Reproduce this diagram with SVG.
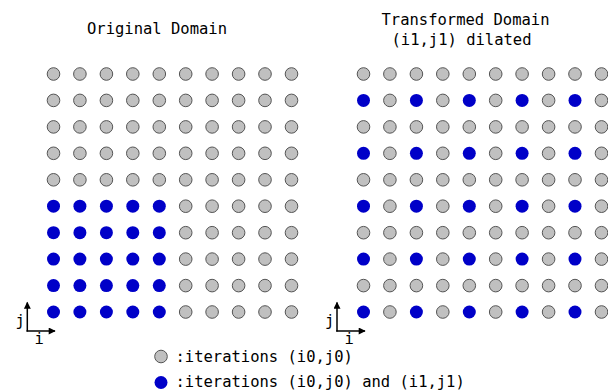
<svg xmlns="http://www.w3.org/2000/svg" width="608" height="391" viewBox="0 0 608 391">
<defs>
<style>
text{font-family:"DejaVu Sans Mono","Liberation Mono",monospace;font-size:15.5px;fill:#000}
.g{fill:#c0c0c0;stroke:#555;stroke-width:1}
.b{fill:#0000c8}
.ax{stroke:#000;stroke-width:1.5;fill:none}
</style>
<marker id="ah" viewBox="0 0 10 10" refX="9" refY="5" markerWidth="8" markerHeight="7" markerUnits="userSpaceOnUse" orient="auto"><path d="M0,0 L10,5 L0,10 z" fill="#000"/></marker>
</defs>
<rect width="608" height="391" fill="#fff"/>
<text x="87" y="34">Original Domain</text>
<text x="381.5" y="25">Transformed Domain</text>
<text x="391.5" y="45">(i1,j1) dilated</text>
<g id="nodes-left">
<circle class="g" cx="53.5" cy="74" r="6.3"/><circle class="g" cx="79.9" cy="74" r="6.3"/><circle class="g" cx="106.4" cy="74" r="6.3"/><circle class="g" cx="132.8" cy="74" r="6.3"/><circle class="g" cx="159.3" cy="74" r="6.3"/><circle class="g" cx="185.7" cy="74" r="6.3"/><circle class="g" cx="212.1" cy="74" r="6.3"/><circle class="g" cx="238.6" cy="74" r="6.3"/><circle class="g" cx="265" cy="74" r="6.3"/><circle class="g" cx="291.5" cy="74" r="6.3"/>
<circle class="g" cx="53.5" cy="100.4" r="6.3"/><circle class="g" cx="79.9" cy="100.4" r="6.3"/><circle class="g" cx="106.4" cy="100.4" r="6.3"/><circle class="g" cx="132.8" cy="100.4" r="6.3"/><circle class="g" cx="159.3" cy="100.4" r="6.3"/><circle class="g" cx="185.7" cy="100.4" r="6.3"/><circle class="g" cx="212.1" cy="100.4" r="6.3"/><circle class="g" cx="238.6" cy="100.4" r="6.3"/><circle class="g" cx="265" cy="100.4" r="6.3"/><circle class="g" cx="291.5" cy="100.4" r="6.3"/>
<circle class="g" cx="53.5" cy="126.9" r="6.3"/><circle class="g" cx="79.9" cy="126.9" r="6.3"/><circle class="g" cx="106.4" cy="126.9" r="6.3"/><circle class="g" cx="132.8" cy="126.9" r="6.3"/><circle class="g" cx="159.3" cy="126.9" r="6.3"/><circle class="g" cx="185.7" cy="126.9" r="6.3"/><circle class="g" cx="212.1" cy="126.9" r="6.3"/><circle class="g" cx="238.6" cy="126.9" r="6.3"/><circle class="g" cx="265" cy="126.9" r="6.3"/><circle class="g" cx="291.5" cy="126.9" r="6.3"/>
<circle class="g" cx="53.5" cy="153.3" r="6.3"/><circle class="g" cx="79.9" cy="153.3" r="6.3"/><circle class="g" cx="106.4" cy="153.3" r="6.3"/><circle class="g" cx="132.8" cy="153.3" r="6.3"/><circle class="g" cx="159.3" cy="153.3" r="6.3"/><circle class="g" cx="185.7" cy="153.3" r="6.3"/><circle class="g" cx="212.1" cy="153.3" r="6.3"/><circle class="g" cx="238.6" cy="153.3" r="6.3"/><circle class="g" cx="265" cy="153.3" r="6.3"/><circle class="g" cx="291.5" cy="153.3" r="6.3"/>
<circle class="g" cx="53.5" cy="179.8" r="6.3"/><circle class="g" cx="79.9" cy="179.8" r="6.3"/><circle class="g" cx="106.4" cy="179.8" r="6.3"/><circle class="g" cx="132.8" cy="179.8" r="6.3"/><circle class="g" cx="159.3" cy="179.8" r="6.3"/><circle class="g" cx="185.7" cy="179.8" r="6.3"/><circle class="g" cx="212.1" cy="179.8" r="6.3"/><circle class="g" cx="238.6" cy="179.8" r="6.3"/><circle class="g" cx="265" cy="179.8" r="6.3"/><circle class="g" cx="291.5" cy="179.8" r="6.3"/>
<circle class="b" cx="53.5" cy="206.2" r="6.5"/><circle class="b" cx="79.9" cy="206.2" r="6.5"/><circle class="b" cx="106.4" cy="206.2" r="6.5"/><circle class="b" cx="132.8" cy="206.2" r="6.5"/><circle class="b" cx="159.3" cy="206.2" r="6.5"/><circle class="g" cx="185.7" cy="206.2" r="6.3"/><circle class="g" cx="212.1" cy="206.2" r="6.3"/><circle class="g" cx="238.6" cy="206.2" r="6.3"/><circle class="g" cx="265" cy="206.2" r="6.3"/><circle class="g" cx="291.5" cy="206.2" r="6.3"/>
<circle class="b" cx="53.5" cy="232.7" r="6.5"/><circle class="b" cx="79.9" cy="232.7" r="6.5"/><circle class="b" cx="106.4" cy="232.7" r="6.5"/><circle class="b" cx="132.8" cy="232.7" r="6.5"/><circle class="b" cx="159.3" cy="232.7" r="6.5"/><circle class="g" cx="185.7" cy="232.7" r="6.3"/><circle class="g" cx="212.1" cy="232.7" r="6.3"/><circle class="g" cx="238.6" cy="232.7" r="6.3"/><circle class="g" cx="265" cy="232.7" r="6.3"/><circle class="g" cx="291.5" cy="232.7" r="6.3"/>
<circle class="b" cx="53.5" cy="259.1" r="6.5"/><circle class="b" cx="79.9" cy="259.1" r="6.5"/><circle class="b" cx="106.4" cy="259.1" r="6.5"/><circle class="b" cx="132.8" cy="259.1" r="6.5"/><circle class="b" cx="159.3" cy="259.1" r="6.5"/><circle class="g" cx="185.7" cy="259.1" r="6.3"/><circle class="g" cx="212.1" cy="259.1" r="6.3"/><circle class="g" cx="238.6" cy="259.1" r="6.3"/><circle class="g" cx="265" cy="259.1" r="6.3"/><circle class="g" cx="291.5" cy="259.1" r="6.3"/>
<circle class="b" cx="53.5" cy="285.6" r="6.5"/><circle class="b" cx="79.9" cy="285.6" r="6.5"/><circle class="b" cx="106.4" cy="285.6" r="6.5"/><circle class="b" cx="132.8" cy="285.6" r="6.5"/><circle class="b" cx="159.3" cy="285.6" r="6.5"/><circle class="g" cx="185.7" cy="285.6" r="6.3"/><circle class="g" cx="212.1" cy="285.6" r="6.3"/><circle class="g" cx="238.6" cy="285.6" r="6.3"/><circle class="g" cx="265" cy="285.6" r="6.3"/><circle class="g" cx="291.5" cy="285.6" r="6.3"/>
<circle class="b" cx="53.5" cy="312" r="6.5"/><circle class="b" cx="79.9" cy="312" r="6.5"/><circle class="b" cx="106.4" cy="312" r="6.5"/><circle class="b" cx="132.8" cy="312" r="6.5"/><circle class="b" cx="159.3" cy="312" r="6.5"/><circle class="g" cx="185.7" cy="312" r="6.3"/><circle class="g" cx="212.1" cy="312" r="6.3"/><circle class="g" cx="238.6" cy="312" r="6.3"/><circle class="g" cx="265" cy="312" r="6.3"/><circle class="g" cx="291.5" cy="312" r="6.3"/>
</g>
<g id="nodes-right">
<circle class="g" cx="363.5" cy="74" r="6.3"/><circle class="g" cx="389.9" cy="74" r="6.3"/><circle class="g" cx="416.4" cy="74" r="6.3"/><circle class="g" cx="442.8" cy="74" r="6.3"/><circle class="g" cx="469.3" cy="74" r="6.3"/><circle class="g" cx="495.7" cy="74" r="6.3"/><circle class="g" cx="522.1" cy="74" r="6.3"/><circle class="g" cx="548.6" cy="74" r="6.3"/><circle class="g" cx="575" cy="74" r="6.3"/><circle class="g" cx="601.5" cy="74" r="6.3"/>
<circle class="b" cx="363.5" cy="100.4" r="6.5"/><circle class="g" cx="389.9" cy="100.4" r="6.3"/><circle class="b" cx="416.4" cy="100.4" r="6.5"/><circle class="g" cx="442.8" cy="100.4" r="6.3"/><circle class="b" cx="469.3" cy="100.4" r="6.5"/><circle class="g" cx="495.7" cy="100.4" r="6.3"/><circle class="b" cx="522.1" cy="100.4" r="6.5"/><circle class="g" cx="548.6" cy="100.4" r="6.3"/><circle class="b" cx="575" cy="100.4" r="6.5"/><circle class="g" cx="601.5" cy="100.4" r="6.3"/>
<circle class="g" cx="363.5" cy="126.9" r="6.3"/><circle class="g" cx="389.9" cy="126.9" r="6.3"/><circle class="g" cx="416.4" cy="126.9" r="6.3"/><circle class="g" cx="442.8" cy="126.9" r="6.3"/><circle class="g" cx="469.3" cy="126.9" r="6.3"/><circle class="g" cx="495.7" cy="126.9" r="6.3"/><circle class="g" cx="522.1" cy="126.9" r="6.3"/><circle class="g" cx="548.6" cy="126.9" r="6.3"/><circle class="g" cx="575" cy="126.9" r="6.3"/><circle class="g" cx="601.5" cy="126.9" r="6.3"/>
<circle class="b" cx="363.5" cy="153.3" r="6.5"/><circle class="g" cx="389.9" cy="153.3" r="6.3"/><circle class="b" cx="416.4" cy="153.3" r="6.5"/><circle class="g" cx="442.8" cy="153.3" r="6.3"/><circle class="b" cx="469.3" cy="153.3" r="6.5"/><circle class="g" cx="495.7" cy="153.3" r="6.3"/><circle class="b" cx="522.1" cy="153.3" r="6.5"/><circle class="g" cx="548.6" cy="153.3" r="6.3"/><circle class="b" cx="575" cy="153.3" r="6.5"/><circle class="g" cx="601.5" cy="153.3" r="6.3"/>
<circle class="g" cx="363.5" cy="179.8" r="6.3"/><circle class="g" cx="389.9" cy="179.8" r="6.3"/><circle class="g" cx="416.4" cy="179.8" r="6.3"/><circle class="g" cx="442.8" cy="179.8" r="6.3"/><circle class="g" cx="469.3" cy="179.8" r="6.3"/><circle class="g" cx="495.7" cy="179.8" r="6.3"/><circle class="g" cx="522.1" cy="179.8" r="6.3"/><circle class="g" cx="548.6" cy="179.8" r="6.3"/><circle class="g" cx="575" cy="179.8" r="6.3"/><circle class="g" cx="601.5" cy="179.8" r="6.3"/>
<circle class="b" cx="363.5" cy="206.2" r="6.5"/><circle class="g" cx="389.9" cy="206.2" r="6.3"/><circle class="b" cx="416.4" cy="206.2" r="6.5"/><circle class="g" cx="442.8" cy="206.2" r="6.3"/><circle class="b" cx="469.3" cy="206.2" r="6.5"/><circle class="g" cx="495.7" cy="206.2" r="6.3"/><circle class="b" cx="522.1" cy="206.2" r="6.5"/><circle class="g" cx="548.6" cy="206.2" r="6.3"/><circle class="b" cx="575" cy="206.2" r="6.5"/><circle class="g" cx="601.5" cy="206.2" r="6.3"/>
<circle class="g" cx="363.5" cy="232.7" r="6.3"/><circle class="g" cx="389.9" cy="232.7" r="6.3"/><circle class="g" cx="416.4" cy="232.7" r="6.3"/><circle class="g" cx="442.8" cy="232.7" r="6.3"/><circle class="g" cx="469.3" cy="232.7" r="6.3"/><circle class="g" cx="495.7" cy="232.7" r="6.3"/><circle class="g" cx="522.1" cy="232.7" r="6.3"/><circle class="g" cx="548.6" cy="232.7" r="6.3"/><circle class="g" cx="575" cy="232.7" r="6.3"/><circle class="g" cx="601.5" cy="232.7" r="6.3"/>
<circle class="b" cx="363.5" cy="259.1" r="6.5"/><circle class="g" cx="389.9" cy="259.1" r="6.3"/><circle class="b" cx="416.4" cy="259.1" r="6.5"/><circle class="g" cx="442.8" cy="259.1" r="6.3"/><circle class="b" cx="469.3" cy="259.1" r="6.5"/><circle class="g" cx="495.7" cy="259.1" r="6.3"/><circle class="b" cx="522.1" cy="259.1" r="6.5"/><circle class="g" cx="548.6" cy="259.1" r="6.3"/><circle class="b" cx="575" cy="259.1" r="6.5"/><circle class="g" cx="601.5" cy="259.1" r="6.3"/>
<circle class="g" cx="363.5" cy="285.6" r="6.3"/><circle class="g" cx="389.9" cy="285.6" r="6.3"/><circle class="g" cx="416.4" cy="285.6" r="6.3"/><circle class="g" cx="442.8" cy="285.6" r="6.3"/><circle class="g" cx="469.3" cy="285.6" r="6.3"/><circle class="g" cx="495.7" cy="285.6" r="6.3"/><circle class="g" cx="522.1" cy="285.6" r="6.3"/><circle class="g" cx="548.6" cy="285.6" r="6.3"/><circle class="g" cx="575" cy="285.6" r="6.3"/><circle class="g" cx="601.5" cy="285.6" r="6.3"/>
<circle class="b" cx="363.5" cy="312" r="6.5"/><circle class="g" cx="389.9" cy="312" r="6.3"/><circle class="b" cx="416.4" cy="312" r="6.5"/><circle class="g" cx="442.8" cy="312" r="6.3"/><circle class="b" cx="469.3" cy="312" r="6.5"/><circle class="g" cx="495.7" cy="312" r="6.3"/><circle class="b" cx="522.1" cy="312" r="6.5"/><circle class="g" cx="548.6" cy="312" r="6.3"/><circle class="b" cx="575" cy="312" r="6.5"/><circle class="g" cx="601.5" cy="312" r="6.3"/>
</g>
<g id="axes">
<path class="ax" d="M27.3,331.5 V302.5" marker-end="url(#ah)"/>
<path class="ax" d="M26.5,331 H55" marker-end="url(#ah)"/>
<text x="15.5" y="326">j</text>
<text x="34.5" y="343.5">i</text>
<path class="ax" d="M337,331.5 V302.5" marker-end="url(#ah)"/>
<path class="ax" d="M336.2,331 H365" marker-end="url(#ah)"/>
<text x="325" y="326">j</text>
<text x="344.5" y="343.5">i</text>
</g>
<g id="legend">
<circle class="g" cx="161" cy="356.5" r="6.3"/>
<text x="175.5" y="361.5">:iterations (i0,j0)</text>
<circle class="b" cx="161" cy="382.5" r="6.5"/>
<text x="175.5" y="387">:iterations (i0,j0) and (i1,j1)</text>
</g>
</svg>
